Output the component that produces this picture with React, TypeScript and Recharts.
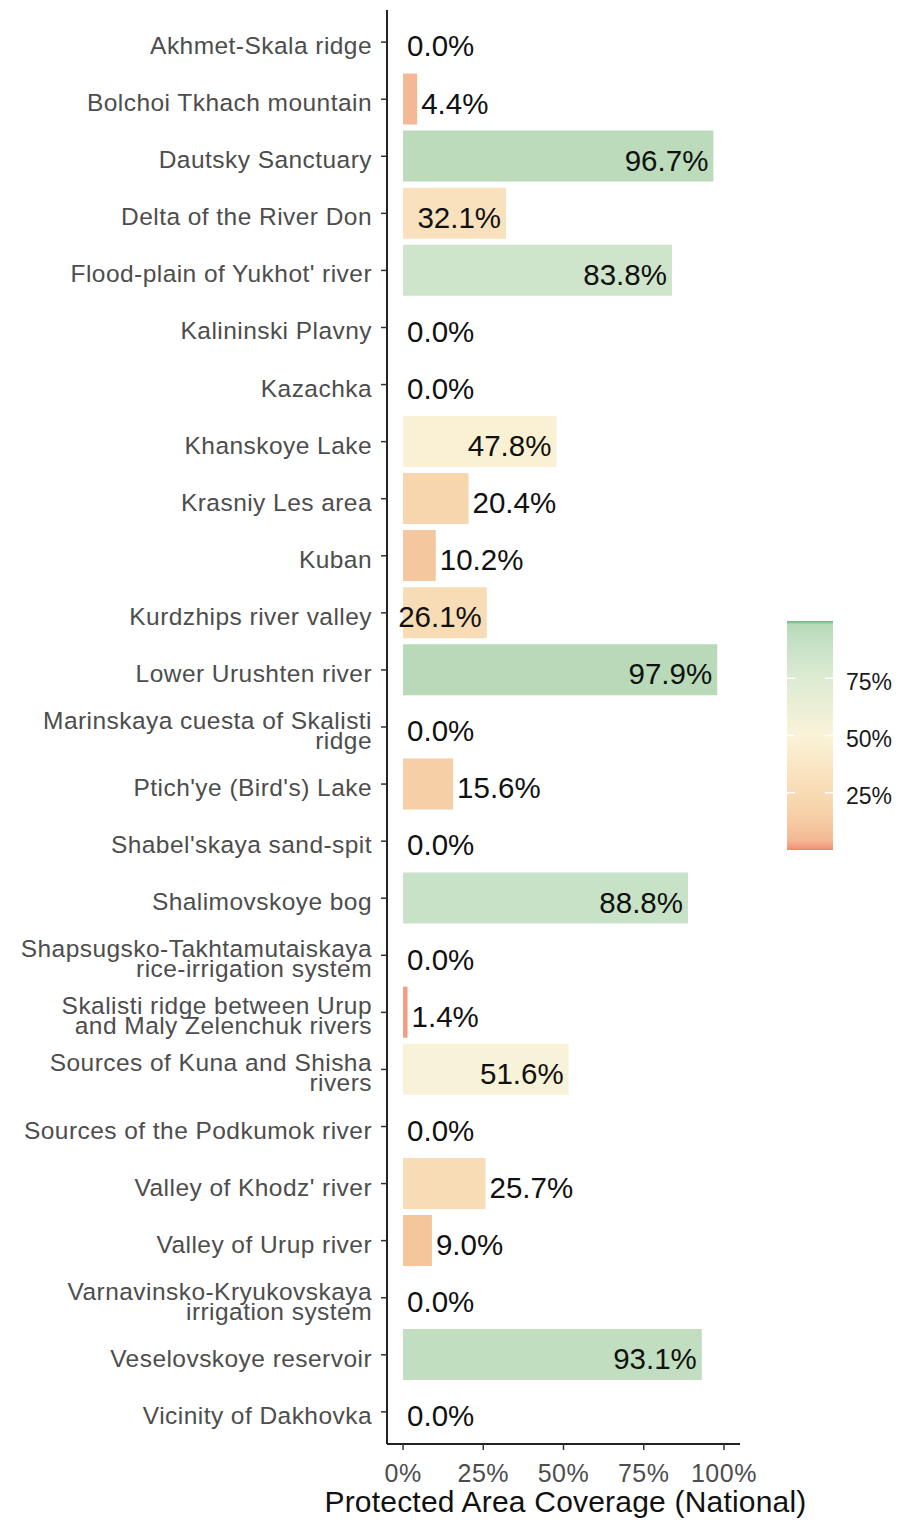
import React from 'react';
import { BarChart, Bar, XAxis, YAxis, Cell, LabelList } from 'recharts';

// Sites, in plotting order (top to bottom)
const sites = [
  'Akhmet-Skala ridge',
  'Bolchoi Tkhach mountain',
  'Dautsky Sanctuary',
  'Delta of the River Don',
  "Flood-plain of Yukhot' river",
  'Kalininski Plavny',
  'Kazachka',
  'Khanskoye Lake',
  'Krasniy Les area',
  'Kuban',
  'Kurdzhips river valley',
  'Lower Urushten river',
  'Marinskaya cuesta of Skalisti ridge',
  "Ptich'ye (Bird's) Lake",
  "Shabel'skaya sand-spit",
  'Shalimovskoye bog',
  'Shapsugsko-Takhtamutaiskaya rice-irrigation system',
  'Skalisti ridge between Urup and Maly Zelenchuk rivers',
  'Sources of Kuna and Shisha rivers',
  'Sources of the Podkumok river',
  "Valley of Khodz' river",
  'Valley of Urup river',
  'Varnavinsko-Kryukovskaya irrigation system',
  'Veselovskoye reservoir',
  'Vicinity of Dakhovka',
];

// Protected area coverage (national), %
const coverage = [
  0.0, 4.4, 96.7, 32.1, 83.8, 0.0, 0.0, 47.8, 20.4, 10.2, 26.1, 97.9, 0.0,
  15.6, 0.0, 88.8, 0.0, 1.4, 51.6, 0.0, 25.7, 9.0, 0.0, 93.1, 0.0,
];

const xTicks = [0, 25, 50, 75, 100];
const legendTicks = [25, 50, 75];

// fill scale: value (%) -> colour
const scaleStops = [0, 1.4, 4.4, 10, 20, 26, 32, 50, 75, 89, 97, 98.5, 99.3, 100];
const scaleColours = [
  '#F08468', '#F29C82', '#F4B994', '#F5C79E', '#F7D6AE', '#F8DCB5',
  '#F9E1BE', '#FAF3D8', '#DCEBD2', '#C8E2C7', '#BADBBA', '#B6D9B6', '#8FC59A', '#6BAF7E',
];

const FONT = '"Liberation Sans", Arial, Helvetica, sans-serif';

const data = sites.map((site, i) => ({ site, value: coverage[i] }));

function hexToRgb(h: string) {
  const n = parseInt(h.slice(1), 16);
  return [(n >> 16) & 255, (n >> 8) & 255, n & 255];
}

function fillFor(v: number) {
  for (let i = 1; i < scaleStops.length; i++) {
    if (v <= scaleStops[i]) {
      const t = (v - scaleStops[i - 1]) / (scaleStops[i] - scaleStops[i - 1]);
      const a = hexToRgb(scaleColours[i - 1]);
      const b = hexToRgb(scaleColours[i]);
      const c = a.map((av, k) => Math.round(av + (b[k] - av) * t));
      return `rgb(${c[0]},${c[1]},${c[2]})`;
    }
  }
  return scaleColours[scaleColours.length - 1];
}

// greedy wrap like stringr::str_wrap(width = 30)
function wrapLabel(s: string, width = 30) {
  const lines: string[] = [];
  let cur = '';
  for (const w of s.split(' ')) {
    if (cur && (cur + ' ' + w).length > width) {
      lines.push(cur);
      cur = w;
    } else {
      cur = cur ? cur + ' ' + w : w;
    }
  }
  if (cur) lines.push(cur);
  return lines;
}

const SiteTick = ({ x, y, payload }: any) => {
  const lines = wrapLabel(payload.value);
  const first = 12 - (lines.length - 1) * 10;
  return (
    <text textAnchor="end" fill="#4D4D4D" fontSize={24.5} letterSpacing={0.45} fontFamily={FONT}>
      {lines.map((l, i) => (
        <tspan key={i} x={x - 9} y={y + first + i * 20}>
          {l}
        </tspan>
      ))}
    </text>
  );
};

const PctTick = ({ x, y, payload }: any) => (
  <text x={x} y={y + 31.5} textAnchor="middle" fill="#4D4D4D" fontSize={25} letterSpacing={0.5} fontFamily={FONT}>
    {payload.value}%
  </text>
);

const ValueLabel = (props: any) => {
  const { x, y, width, height, value } = props;
  const inside = value >= 26;
  const end = value === 0 ? x : x + width;
  return (
    <text
      x={inside ? end - 5 : end + 4}
      y={y + height / 2 + 14.5}
      textAnchor={inside ? 'end' : 'start'}
      fill="#111"
      fontSize={29.5}
      fontFamily={FONT}
    >
      {value.toFixed(1)}%
    </text>
  );
};

const AxisTitle = ({ viewBox }: any) => (
  <text
    x={viewBox.x + viewBox.width / 2 + 2}
    y={1504}
    textAnchor="middle"
    fill="#111"
    fontSize={30}
    letterSpacing={0.2}
    fontFamily={FONT}
  >
    Protected Area Coverage (National)
  </text>
);

function ColourBar() {
  const h = 229;
  const w = 46;
  const grad = scaleStops
    .map((s, i) => `${scaleColours[i]} ${s}%`)
    .join(', ');
  return (
    <div style={{ position: 'absolute', left: 779, top: 613, width: 106, height: h }}>
      <div
        style={{
          position: 'absolute',
          left: 0,
          top: 0,
          width: w,
          height: h,
          background: `linear-gradient(to top, ${grad})`,
        }}
      />
      <svg width={106} height={h} style={{ position: 'absolute', left: 0, top: 0 }}>
        {legendTicks.map((t) => {
          const ty = ((100 - t) / 100) * h;
          return (
            <g key={t}>
              <line x1={0} x2={8} y1={ty} y2={ty} stroke="#fff" strokeWidth={1.5} />
              <line x1={w - 8} x2={w} y1={ty} y2={ty} stroke="#fff" strokeWidth={1.5} />
              <text x={59} y={ty + 11.5} fill="#1a1a1a" fontSize={23} fontFamily={FONT}>
                {t}%
              </text>
            </g>
          );
        })}
      </svg>
    </div>
  );
}

export default function App() {
  return (
    <div style={{ position: 'relative', width: 885, height: 1514 }}>
      <BarChart
        width={885}
        height={1514}
        data={data}
        layout="vertical"
        margin={{ top: 2, right: 153, bottom: 0, left: 0 }}
        barCategoryGap="5%"
      >
        <XAxis
          type="number"
          domain={[-5, 105]}
          ticks={xTicks}
          allowDataOverflow
          height={78}
          tickSize={6}
          tickMargin={0}
          tick={<PctTick />}
          axisLine={{ stroke: '#222', strokeWidth: 2 }}
          tickLine={{ stroke: '#333', strokeWidth: 1.5 }}
          label={<AxisTitle />}
        />
        <YAxis
          type="category"
          dataKey="site"
          width={379}
          interval={0}
          padding={{ top: 3.6, bottom: 3.6 }}
          tickSize={6}
          tickMargin={0}
          tick={<SiteTick />}
          axisLine={{ stroke: '#222', strokeWidth: 2 }}
          tickLine={{ stroke: '#333', strokeWidth: 1.5 }}
        />
        <Bar dataKey="value" minPointSize={0.5} isAnimationActive={false}>
          {data.map((d, i) => (
            <Cell key={i} fill={d.value === 0 ? 'transparent' : fillFor(d.value)} />
          ))}
          <LabelList dataKey="value" content={<ValueLabel />} />
        </Bar>
      </BarChart>
      <ColourBar />
    </div>
  );
}
